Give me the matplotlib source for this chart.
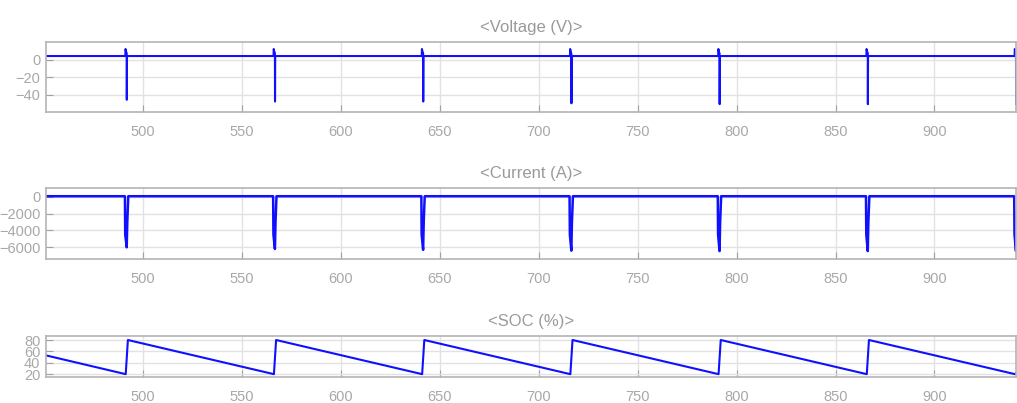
import matplotlib
matplotlib.use("Agg")
import matplotlib.pyplot as plt

# event times (charge pulses)
events = [491.8, 566.7, 641.6, 716.5, 791.4, 866.3, 941.2]

# voltage: baseline, pre-spike bump, spike minima
v_base = 4
v_bump = 12
v_min = [-46, -48, -48, -50, -51, -51, -51]

# current: baseline and spike minima
i_base = 50
i_min = [-6000, -6200, -6300, -6400, -6450, -6450, -6450]

# SOC sawtooth corners
soc_t = [451, 491.3, 492.4, 566.2, 567.3, 641.1, 642.2, 716.0, 717.1,
         790.9, 792.0, 865.8, 866.9, 940.7, 941.2]
soc_v = [53, 20, 80, 20, 80, 20, 80, 20, 80, 20, 80, 20, 80, 20, 22]

xlim = (451, 941.2)

# build voltage / current traces
v_t, v_v = [xlim[0]], [v_base]
i_t, i_v = [xlim[0]], [i_base]
for t0, vm, im in zip(events, v_min, i_min):
    v_t += [t0 - 0.7, t0 - 0.6, t0 - 0.1, t0, t0 + 0.05, t0 + 0.15]
    v_v += [v_base, v_bump, 7, 7, vm, v_base]
    i_t += [t0 - 0.9, t0 - 0.75, t0, t0 + 0.3, t0 + 0.8]
    i_v += [i_base, -4500, im, -3000, i_base]
v_t.append(xlim[1] + 5)
v_v.append(v_base)
i_t.append(xlim[1] + 5)
i_v.append(i_base)

plt.rcParams['font.family'] = ['Liberation Sans Narrow', 'Liberation Sans', 'DejaVu Sans']
grey_txt = "#a8a8a8"
spine_c = "#b4b4b4"
blue = "#1010ff"

fig = plt.figure(figsize=(10.17, 4.03), dpi=100)
ax1 = fig.add_axes([0.0452, 0.722, 0.9538, 0.1737])
ax2 = fig.add_axes([0.0452, 0.357, 0.9538, 0.176])
ax3 = fig.add_axes([0.0452, 0.0645, 0.9538, 0.1017])

ax1.plot(v_t, v_v, color=blue, lw=1.5)
ax2.plot(i_t, i_v, color=blue, lw=1.8)
ax3.plot(soc_t, soc_v, color=blue, lw=1.5)

ax1.set_ylim(-60, 20)
ax1.set_yticks([0, -20, -40])
ax2.set_ylim(-7400, 1000)
ax2.set_yticks([0, -2000, -4000, -6000])
ax3.set_ylim(15, 87)
ax3.set_yticks([20, 40, 60, 80])

titles = ["<Voltage (V)>", "<Current (A)>", "<SOC (%)>"]
for ax, ttl in zip([ax1, ax2, ax3], titles):
    ax.set_xlim(*xlim)
    ax.set_xticks([500, 550, 600, 650, 700, 750, 800, 850, 900])
    ax.grid(True, color="#e2e2e2", lw=1)
    ax.set_axisbelow(True)
    for s in ax.spines.values():
        s.set_color(spine_c)
        s.set_linewidth(1.2)
    ax.tick_params(axis="both", direction="in", color="#a0a0a0", labelcolor=grey_txt,
                   labelsize=10.5, length=5)
    ax.tick_params(axis="x", pad=9)
    ax.tick_params(axis="y", pad=4)
    ax.set_title(ttl, color="#9a9a9a", fontsize=12, pad=7)

fig.savefig("out.png", dpi=100)
